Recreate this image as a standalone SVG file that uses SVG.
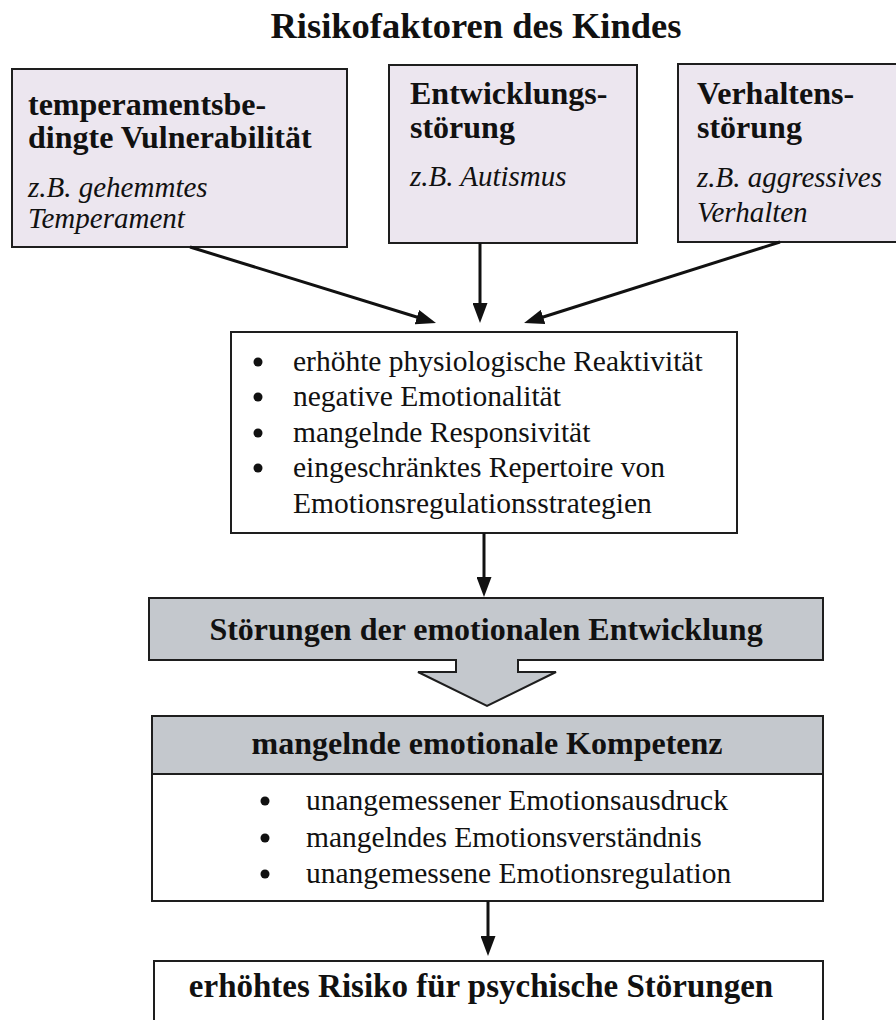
<svg xmlns="http://www.w3.org/2000/svg" width="896" height="1020" viewBox="0 0 896 1020">
<style>
.bg{fill:#ffffff}
.box{stroke:#1e1e1e;stroke-width:2}
.risk{fill:#ece6ef}
.gray{fill:#c4c8cd}
.white{fill:#ffffff}
.t{font-family:"Liberation Serif","Times New Roman",serif;fill:#111}
.h{font-weight:bold;font-size:32px}
.i{font-style:italic;font-size:29px}
.r{font-size:29.5px}
.title{font-weight:bold;font-size:36.5px}
.c{text-anchor:middle}
.ln{stroke:#111;stroke-width:3;fill:none}
.dot{fill:#111}
</style>
<defs>
<marker id="ah" viewBox="0 0 20 15" markerWidth="20" markerHeight="15" refX="4" refY="7.5" orient="auto" markerUnits="userSpaceOnUse">
<path d="M0,0 L20,7.5 L0,15 z" fill="#111"/>
</marker>
</defs>
<rect class="bg" x="0" y="0" width="896" height="1020"/>

<g id="title">
<text class="t title c" x="476" y="38">Risikofaktoren des Kindes</text>
</g>

<g id="node-temperament">
<rect class="box risk" x="12" y="69" width="335" height="178"/>
<text class="t h" x="28" y="115">temperamentsbe-</text>
<text class="t h" x="28" y="148">dingte Vulnerabilität</text>
<text class="t i" x="28" y="197">z.B. gehemmtes</text>
<text class="t i" x="28" y="228">Temperament</text>
</g>

<g id="node-entwicklung">
<rect class="box risk" x="389" y="65" width="248" height="178"/>
<text class="t h" x="410" y="104">Entwicklungs-</text>
<text class="t h" x="410" y="138">störung</text>
<text class="t i" x="410" y="186">z.B. Autismus</text>
</g>

<g id="node-verhalten">
<rect class="box risk" x="678" y="64" width="222" height="178"/>
<text class="t h" x="697" y="104">Verhaltens-</text>
<text class="t h" x="697" y="138">störung</text>
<text class="t i" x="697" y="187">z.B. aggressives</text>
<text class="t i" x="697" y="222">Verhalten</text>
</g>

<g id="node-merkmale">
<rect class="box white" x="231" y="332" width="506" height="201"/>
<circle class="dot" cx="258" cy="362" r="4.5"/>
<circle class="dot" cx="258" cy="397" r="4.5"/>
<circle class="dot" cx="258" cy="433" r="4.5"/>
<circle class="dot" cx="258" cy="468" r="4.5"/>
<text class="t r" x="293" y="371">erhöhte physiologische Reaktivität</text>
<text class="t r" x="293" y="406">negative Emotionalität</text>
<text class="t r" x="293" y="442">mangelnde Responsivität</text>
<text class="t r" x="293" y="477">eingeschränktes Repertoire von</text>
<text class="t r" x="293" y="513">Emotionsregulationsstrategien</text>
</g>

<g id="node-stoerungen">
<path class="box gray" d="M149,598 H823 V660 H518 V672 H556 L487,706 L418,672 H456 V660 H149 Z"/>
<text class="t h c" x="486" y="640">Störungen der emotionalen Entwicklung</text>
</g>

<g id="node-kompetenz">
<rect class="box white" x="152" y="716" width="671" height="185"/>
<rect class="box gray" x="152" y="716" width="671" height="58"/>
<text class="t h c" x="487" y="754">mangelnde emotionale Kompetenz</text>
<circle class="dot" cx="265" cy="801" r="4.5"/>
<circle class="dot" cx="265" cy="838" r="4.5"/>
<circle class="dot" cx="265" cy="874" r="4.5"/>
<text class="t r" x="306" y="810">unangemessener Emotionsausdruck</text>
<text class="t r" x="306" y="847">mangelndes Emotionsverständnis</text>
<text class="t r" x="306" y="883">unangemessene Emotionsregulation</text>
</g>

<g id="node-risiko">
<rect class="box white" x="154" y="961" width="669" height="70"/>
<text class="t h c" x="481" y="997" style="font-size:33px">erhöhtes Risiko für psychische Störungen</text>
</g>

<g id="connectors">
<line class="ln" x1="190" y1="247" x2="420.7" y2="318.3" marker-end="url(#ah)"/>
<line class="ln" x1="480" y1="243" x2="480" y2="307" marker-end="url(#ah)"/>
<line class="ln" x1="780" y1="242" x2="539.3" y2="318.2" marker-end="url(#ah)"/>
<line class="ln" x1="484" y1="533" x2="484" y2="581" marker-end="url(#ah)"/>
<line class="ln" x1="488" y1="901" x2="488" y2="940" marker-end="url(#ah)"/>
</g>
</svg>
